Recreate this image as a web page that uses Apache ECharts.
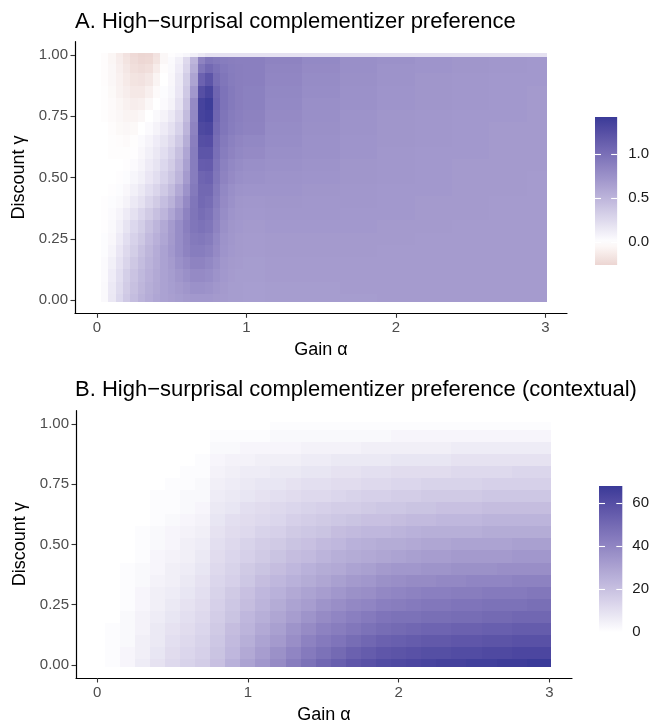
<!DOCTYPE html>
<html>
<head>
<meta charset="utf-8">
<script src="https://cdn.jsdelivr.net/npm/echarts@6/dist/echarts.min.js"></script>
<style>
  html, body { margin: 0; padding: 0; background: #fff; }
  #main { width: 652px; height: 725px; }
</style>
</head>
<body>
<div id="main"></div>
<script>
// ---- panel A: complementizer preference, rows = discount gamma, cols = gain alpha
const alphaA = [0, 0.05, 0.1, 0.15, 0.2, 0.25, 0.3, 0.35, 0.4, 0.45, 0.5, 0.55, 0.6, 0.65, 0.7, 0.75, 0.8, 0.85, 0.9, 0.95, 1.0,
  1.25, 1.5, 1.75, 2.0, 2.25, 2.5, 2.75, 3.0];
const gammaA = [0, 0.05, 0.1, 0.15, 0.2, 0.25, 0.3, 0.35, 0.4, 0.45, 0.5, 0.55, 0.6, 0.65, 0.7, 0.75, 0.8, 0.85, 0.9, 0.95, 0.98, 1.0];
const prefA = [
  [0, .04, .15, .26, .36, .44, .51, .56, .60, .63, .65, .67, .69, .70, .70, .70, .69, .68, .67, .67, .66, .67, .67, .67, .68, .68, .68, .68, .68],
  [0, .04, .14, .24, .34, .42, .49, .55, .59, .63, .66, .69, .72, .75, .75, .74, .71, .69, .67, .67, .66, .67, .67, .68, .68, .68, .68, .68, .68],
  [0, .03, .12, .22, .32, .40, .47, .53, .58, .63, .67, .72, .76, .80, .80, .78, .74, .70, .68, .67, .67, .68, .68, .68, .68, .68, .68, .68, .68],
  [0, .03, .10, .19, .28, .37, .44, .51, .57, .63, .68, .75, .80, .85, .85, .82, .77, .71, .69, .68, .67, .68, .68, .68, .68, .68, .68, .68, .68],
  [0, .02, .07, .16, .25, .33, .41, .49, .56, .63, .70, .78, .85, .90, .90, .87, .80, .73, .70, .69, .68, .69, .69, .69, .68, .68, .68, .68, .68],
  [0, .02, .05, .13, .22, .30, .37, .46, .53, .60, .69, .78, .86, .92, .94, .91, .82, .74, .71, .69, .68, .69, .69, .69, .69, .68, .68, .68, .68],
  [0, .01, .04, .10, .18, .26, .33, .42, .50, .58, .68, .78, .88, .95, .98, .95, .85, .76, .72, .70, .69, .70, .70, .70, .69, .69, .68, .68, .68],
  [0, .01, .03, .07, .13, .20, .27, .35, .42, .50, .60, .72, .85, .96, 1.02, .98, .87, .78, .73, .71, .70, .71, .71, .70, .70, .69, .69, .68, .68],
  [0, .01, .02, .04, .08, .14, .20, .28, .35, .43, .52, .65, .80, .95, 1.05, 1.02, .90, .80, .75, .72, .71, .72, .71, .71, .70, .69, .69, .68, .68],
  [0, 0, .01, .02, .05, .10, .15, .22, .28, .36, .45, .58, .74, .92, 1.06, 1.06, .92, .82, .77, .74, .73, .73, .72, .71, .70, .70, .69, .69, .68],
  [0, 0, 0, .01, .02, .06, .10, .16, .22, .30, .38, .50, .68, .90, 1.08, 1.10, .95, .85, .80, .77, .75, .74, .73, .72, .71, .70, .69, .69, .68],
  [0, 0, 0, 0, .01, .03, .07, .13, .18, .26, .34, .46, .64, .90, 1.14, 1.15, .97, .87, .82, .79, .77, .75, .74, .72, .71, .70, .69, .69, .69],
  [0, 0, -.01, -.01, -.01, .01, .05, .10, .15, .22, .30, .42, .60, .90, 1.20, 1.20, 1.00, .90, .85, .82, .80, .77, .75, .73, .71, .70, .70, .69, .69],
  [0, 0, -.01, -.02, -.03, -.01, .03, .07, .12, .18, .25, .36, .55, .88, 1.25, 1.26, 1.02, .92, .87, .84, .82, .78, .75, .73, .72, .71, .70, .69, .69],
  [0, 0, -.02, -.04, -.05, -.04, 0, .03, .08, .13, .20, .30, .50, .85, 1.30, 1.32, 1.05, .95, .90, .87, .85, .79, .76, .74, .72, .71, .70, .69, .69],
  [0, -.01, -.03, -.05, -.07, -.07, -.05, 0, .04, .08, .14, .25, .45, .82, 1.35, 1.38, 1.08, .96, .91, .88, .86, .80, .77, .74, .72, .71, .70, .70, .69],
  [0, -.01, -.03, -.06, -.09, -.11, -.10, -.05, 0, .03, .08, .20, .40, .80, 1.35, 1.40, 1.10, .97, .92, .89, .87, .81, .77, .75, .73, .72, .71, .70, .69],
  [0, -.01, -.04, -.08, -.11, -.14, -.14, -.10, -.03, .02, .06, .16, .36, .70, 1.25, 1.33, 1.08, .97, .92, .89, .87, .82, .78, .75, .73, .72, .71, .70, .69],
  [0, -.02, -.05, -.09, -.13, -.17, -.18, -.15, -.07, 0, .05, .15, .33, .62, 1.10, 1.20, 1.02, .95, .91, .89, .88, .83, .79, .76, .74, .72, .71, .70, .70],
  [0, -.02, -.05, -.10, -.15, -.20, -.22, -.20, -.12, -.02, .04, .12, .28, .55, .95, 1.05, .98, .93, .90, .89, .88, .84, .80, .77, .74, .73, .72, .71, .70],
  [0, -.02, -.06, -.11, -.17, -.22, -.25, -.24, -.17, -.05, .03, .10, .25, .50, .85, .95, .92, .90, .89, .88, .88, .85, .81, .77, .75, .73, .72, .71, .70],
  [0, -.02, -.06, -.12, -.18, -.23, -.26, -.25, -.18, -.05, .01, .03, .06, .10, .15, .20, .20, .20, .20, .20, .20, .20, .20, .20, .20, .20, .20, .20, .20]
];

// ---- panel B: contextual preference
const alphaB = [0, 0.1, 0.2, 0.3, 0.4, 0.5, 0.6, 0.7, 0.8, 0.9, 1.0, 1.1, 1.2, 1.3, 1.4, 1.5, 1.6, 1.7, 1.8, 1.9, 2.0,
  2.1, 2.2, 2.3, 2.4, 2.5, 2.6, 2.7, 2.8, 2.9, 3.0];
const gammaB = [0, 0.05, 0.1, 0.15, 0.2, 0.25, 0.3, 0.35, 0.4, 0.45, 0.5, 0.55, 0.6, 0.65, 0.7, 0.75, 0.8, 0.85, 0.9, 0.95, 1.0];
const prefB = [
  [0, 1, 3, 6, 9, 12, 14, 16, 20, 25, 30, 34, 38, 43, 47, 51, 54, 57, 59, 61, 62, 63, 64, 65, 65, 66, 66, 67, 67, 68, 68],
  [0, 1, 3, 5, 8, 11, 13, 15, 19, 23, 28, 32, 36, 40, 44, 47, 50, 53, 55, 57, 58, 59, 60, 60, 61, 61, 62, 62, 63, 63, 63],
  [0, 1, 2, 5, 7, 10, 12, 14, 18, 22, 26, 30, 33, 37, 41, 44, 46, 49, 51, 53, 54, 55, 56, 56, 57, 57, 58, 58, 59, 59, 59],
  [0, 1, 2, 4, 7, 9, 11, 13, 17, 21, 24, 28, 31, 35, 38, 41, 43, 45, 47, 49, 50, 51, 52, 52, 53, 53, 54, 54, 55, 55, 55],
  [0, 0, 2, 4, 6, 8, 10, 12, 16, 19, 23, 26, 29, 32, 35, 38, 40, 42, 44, 46, 47, 47, 48, 48, 49, 49, 50, 50, 51, 51, 51],
  [0, 0, 1, 3, 5, 7, 9, 11, 15, 18, 21, 24, 27, 30, 32, 35, 37, 39, 40, 42, 43, 44, 45, 45, 46, 46, 47, 47, 47, 48, 48],
  [0, 0, 1, 3, 5, 6, 8, 10, 14, 17, 20, 23, 25, 28, 30, 32, 34, 36, 37, 39, 40, 41, 42, 42, 43, 43, 44, 44, 44, 45, 45],
  [0, 0, 1, 2, 4, 5, 7, 9, 13, 15, 18, 21, 23, 25, 27, 29, 31, 33, 34, 36, 37, 38, 38, 39, 39, 40, 40, 40, 41, 41, 41],
  [0, 0, 1, 2, 3, 5, 6, 8, 12, 14, 17, 19, 21, 23, 25, 27, 28, 30, 31, 33, 34, 34, 35, 35, 36, 36, 36, 37, 37, 37, 37],
  [0, 0, 0, 1, 3, 4, 5, 7, 11, 13, 15, 17, 19, 21, 22, 24, 26, 27, 28, 29, 30, 31, 32, 32, 33, 33, 33, 33, 34, 34, 34],
  [0, 0, 0, 1, 2, 3, 5, 6, 10, 12, 14, 16, 17, 19, 20, 22, 23, 25, 26, 27, 27, 28, 29, 29, 30, 30, 30, 30, 31, 31, 31],
  [0, 0, 0, 1, 2, 3, 4, 5, 9, 11, 12, 14, 15, 17, 18, 19, 21, 22, 23, 23, 24, 25, 26, 26, 26, 26, 27, 27, 27, 27, 27],
  [0, 0, 0, 0, 1, 2, 3, 4, 8, 10, 11, 12, 13, 15, 16, 17, 18, 19, 20, 20, 21, 22, 22, 23, 23, 23, 24, 24, 24, 24, 24],
  [0, 0, 0, 0, 1, 1, 2, 3, 7, 8, 10, 11, 12, 13, 14, 15, 16, 16, 17, 18, 18, 19, 19, 20, 20, 20, 21, 21, 21, 21, 21],
  [0, 0, 0, 0, 1, 1, 2, 2, 6, 7, 8, 9, 10, 11, 12, 12, 13, 14, 15, 15, 16, 16, 17, 17, 17, 17, 18, 18, 18, 18, 18],
  [0, 0, 0, 0, 0, 1, 1, 2, 5, 6, 7, 8, 8, 9, 10, 10, 11, 11, 12, 12, 13, 13, 14, 14, 14, 14, 15, 15, 15, 15, 15],
  [0, 0, 0, 0, 0, 0, 1, 1, 4, 5, 6, 6, 7, 7, 8, 8, 9, 9, 10, 10, 11, 11, 11, 11, 12, 12, 12, 12, 13, 13, 13],
  [0, 0, 0, 0, 0, 0, 0, 1, 3, 4, 4, 5, 5, 5, 6, 6, 7, 7, 7, 7, 8, 8, 8, 8, 9, 9, 9, 9, 9, 9, 9],
  [0, 0, 0, 0, 0, 0, 0, 0, 2, 2, 3, 3, 3, 3, 4, 4, 4, 4, 5, 5, 5, 5, 5, 5, 6, 6, 6, 6, 6, 6, 6],
  [0, 0, 0, 0, 0, 0, 0, 0, 1, 1, 1, 1, 2, 2, 2, 2, 2, 2, 2, 2, 3, 3, 3, 3, 3, 3, 3, 3, 3, 3, 3],
  [0, 0, 0, 0, 0, 0, 0, 0, 0, 0, 0, 0, 1, 1, 1, 1, 1, 1, 1, 1, 1, 1, 1, 1, 1, 1, 1, 1, 1, 1, 1]
];

// ---- ticks and legends
const xTicks = [0, 1, 2, 3];
const yTicks = [0, 0.25, 0.5, 0.75, 1];
const yTickLabels = ['0.00', '0.25', '0.50', '0.75', '1.00'];
const legendRangeA = [-0.26, 1.42];
const legendTicksA = [0, 0.5, 1];
const legendLabelsA = ['0.0', '0.5', '1.0'];
const legendRangeB = [0, 68];
const legendTicksB = [0, 20, 40, 60];
const legendLabelsB = ['0', '20', '40', '60'];

const FONT = '"Liberation Sans", Arial, sans-serif';
const LOW = '#832424', MID = '#ffffff', HIGH = '#3a3a98';

// colours blended in Lab, like ggplot's gradients
function toLab(hex) {
  const n = parseInt(hex.slice(1), 16);
  const c = [n >> 16, (n >> 8) & 255, n & 255].map(v => {
    v /= 255;
    return v <= 0.04045 ? v / 12.92 : Math.pow((v + 0.055) / 1.055, 2.4);
  });
  const x = (0.4124 * c[0] + 0.3576 * c[1] + 0.1805 * c[2]) / 0.95047;
  const y = 0.2126 * c[0] + 0.7152 * c[1] + 0.0722 * c[2];
  const z = (0.0193 * c[0] + 0.1192 * c[1] + 0.9505 * c[2]) / 1.08883;
  const f = t => t > 0.008856 ? Math.cbrt(t) : 7.787 * t + 16 / 116;
  return [116 * f(y) - 16, 500 * (f(x) - f(y)), 200 * (f(y) - f(z))];
}
function fromLab(L, a, b) {
  const fy = (L + 16) / 116, fx = fy + a / 500, fz = fy - b / 200;
  const g = t => t > 0.206893 ? t * t * t : (t - 16 / 116) / 7.787;
  const x = g(fx) * 0.95047, y = g(fy), z = g(fz) * 1.08883;
  const lin = [3.2406 * x - 1.5372 * y - 0.4986 * z,
    -0.9689 * x + 1.8758 * y + 0.0415 * z,
    0.0557 * x - 0.2040 * y + 1.0570 * z];
  const enc = v => {
    v = v <= 0.0031308 ? 12.92 * v : 1.055 * Math.pow(v, 1 / 2.4) - 0.055;
    return Math.round(Math.max(0, Math.min(1, v)) * 255);
  };
  return 'rgb(' + lin.map(enc).join(',') + ')';
}
function mix(c1, c2, t) {
  const p = toLab(c1), q = toLab(c2);
  return fromLab(p[0] + (q[0] - p[0]) * t, p[1] + (q[1] - p[1]) * t, p[2] + (q[2] - p[2]) * t);
}
const limA = legendRangeA[1], limB = legendRangeB[1];
function colA(v) { return v >= 0 ? mix(MID, HIGH, v / limA) : mix(MID, LOW, -v / limA); }
function colB(v) { return mix(MID, HIGH, v / limB); }
function palette(fn, lo, hi, n) {
  const out = [];
  for (let k = 0; k < n; k++) out.push(fn(lo + (hi - lo) * k / (n - 1)));
  return out;
}

function cells(xs, ys, vals) {
  const out = [];
  ys.forEach((g, j) => xs.forEach((a, i) => out.push([a, g, vals[j][i], i, j])));
  return out;
}
function edges(v, pad) {
  const e = [v[0] - pad];
  for (let k = 1; k < v.length; k++) e.push((v[k - 1] + v[k]) / 2);
  e.push(v[v.length - 1] + pad);
  return e;
}
function tileRenderer(xs, ys) {
  const xe = edges(xs, 0.012), ye = edges(ys, 0.008);
  return function (params, api) {
    const i = api.value(3), j = api.value(4);
    const p0 = api.coord([xe[i], ye[j + 1]]);
    const p1 = api.coord([xe[i + 1], ye[j]]);
    const x0 = Math.round(p0[0]), y0 = Math.round(p0[1]);
    const x1 = Math.round(p1[0]), y1 = Math.round(p1[1]);
    return {
      type: 'rect',
      shape: { x: x0, y: y0, width: x1 - x0, height: y1 - y0 },
      style: { fill: api.visual('color') }
    };
  };
}
function legendRenderer(fn) {
  return function (params, api) {
    const lo = api.value(1), hi = api.value(2);
    const top = api.coord([0, hi]), bot = api.coord([0, lo]);
    const cs = params.coordSys;
    const stops = [];
    for (let k = 0; k <= 24; k++) stops.push({ offset: k / 24, color: fn(lo + (hi - lo) * k / 24) });
    return {
      type: 'rect',
      shape: { x: cs.x, y: top[1], width: cs.width, height: bot[1] - top[1] },
      style: { fill: new echarts.graphic.LinearGradient(0, 1, 0, 0, stops) }
    };
  };
}

function mainX(gridIndex, min, max) {
  return {
    type: 'value', gridIndex: gridIndex, min: min, max: max,
    name: 'Gain α', nameLocation: 'middle', nameGap: 28,
    nameTextStyle: { fontSize: 18, color: '#000', fontFamily: FONT },
    axisLine: { onZero: false, lineStyle: { color: '#000', width: 1.2 } },
    axisTick: { customValues: xTicks, length: 4.5, lineStyle: { color: '#333', width: 1.1 } },
    axisLabel: { customValues: xTicks, color: '#4d4d4d', fontSize: 15, margin: 7, fontFamily: FONT },
    splitLine: { show: false }
  };
}
function mainY(gridIndex, min, max) {
  return {
    type: 'value', gridIndex: gridIndex, min: min, max: max,
    name: 'Discount γ', nameLocation: 'middle', nameGap: 47, nameRotate: 90,
    nameTextStyle: { fontSize: 18, color: '#000', fontFamily: FONT },
    axisLine: { onZero: false, lineStyle: { color: '#000', width: 1.2 } },
    axisTick: { customValues: yTicks, length: 4.5, lineStyle: { color: '#333', width: 1.1 } },
    axisLabel: {
      customValues: yTicks, color: '#4d4d4d', fontSize: 15, margin: 7, fontFamily: FONT,
      formatter: v => yTickLabels[yTicks.indexOf(v)]
    },
    splitLine: { show: false }
  };
}
function legendY(gridIndex, range, ticks, labels, side, gap) {
  return {
    type: 'value', gridIndex: gridIndex, min: range[0], max: range[1], position: side, z: 10,
    axisLine: { show: false }, splitLine: { show: false },
    axisTick: { customValues: ticks, inside: true, length: 6, lineStyle: { color: '#fff', width: 1.1 } },
    axisLabel: side === 'right' ? {
      customValues: ticks, color: '#1a1a1a', fontSize: 15, margin: gap, fontFamily: FONT,
      formatter: v => labels[ticks.indexOf(v)]
    } : { show: false }
  };
}

const chart = echarts.init(document.getElementById('main'));
chart.setOption({
  animation: false,
  backgroundColor: '#fff',
  title: [
    { text: 'A. High−surprisal complementizer preference', left: 75, top: 11, padding: 0,
      textStyle: { fontSize: 22, fontWeight: 'normal', color: '#000', fontFamily: FONT } },
    { text: 'B. High−surprisal complementizer preference (contextual)', left: 75, top: 379, padding: 0,
      textStyle: { fontSize: 22, fontWeight: 'normal', color: '#000', fontFamily: FONT } }
  ],
  grid: [
    { left: 75, top: 41.7, width: 492, height: 271.6 },
    { left: 76, top: 410.7, width: 496, height: 272 },
    { left: 595, top: 117, width: 30, height: 148 },
    { left: 599, top: 486, width: 31, height: 146 }
  ],
  xAxis: [
    mainX(0, -0.146, 3.145),
    mainX(1, -0.14, 3.15),
    { type: 'value', gridIndex: 2, min: 0, max: 1, show: false },
    { type: 'value', gridIndex: 3, min: 0, max: 1, show: false }
  ],
  yAxis: [
    mainY(0, -0.054, 1.054),
    mainY(1, -0.055, 1.056),
    legendY(2, legendRangeA, legendTicksA, legendLabelsA, 'left', 0),
    legendY(2, legendRangeA, legendTicksA, legendLabelsA, 'right', 11),
    legendY(3, legendRangeB, legendTicksB, legendLabelsB, 'left', 0),
    legendY(3, legendRangeB, legendTicksB, legendLabelsB, 'right', 10)
  ],
  visualMap: [
    { type: 'continuous', show: false, seriesIndex: 0, dimension: 2, min: -limA, max: limA,
      inRange: { color: palette(colA, -limA, limA, 41) } },
    { type: 'continuous', show: false, seriesIndex: 1, dimension: 2, min: 0, max: limB,
      inRange: { color: palette(colB, 0, limB, 25) } }
  ],
  series: [
    { type: 'custom', xAxisIndex: 0, yAxisIndex: 0, renderItem: tileRenderer(alphaA, gammaA),
      data: cells(alphaA, gammaA, prefA), silent: true },
    { type: 'custom', xAxisIndex: 1, yAxisIndex: 1, renderItem: tileRenderer(alphaB, gammaB),
      data: cells(alphaB, gammaB, prefB), silent: true },
    { type: 'custom', xAxisIndex: 2, yAxisIndex: 3, renderItem: legendRenderer(colA),
      data: [[0.5, legendRangeA[0], legendRangeA[1]]], silent: true },
    { type: 'custom', xAxisIndex: 3, yAxisIndex: 5, renderItem: legendRenderer(colB),
      data: [[0.5, legendRangeB[0], legendRangeB[1]]], silent: true }
  ]
});
</script>
</body>
</html>
